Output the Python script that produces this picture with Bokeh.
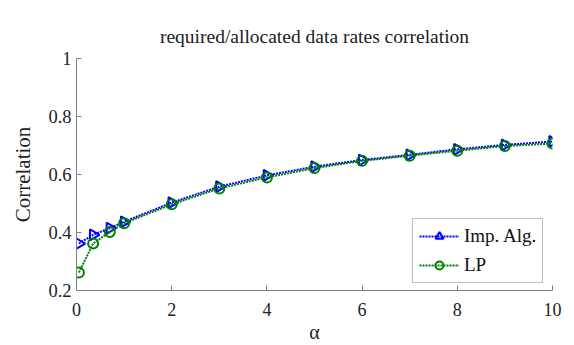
import math
from bokeh.plotting import figure
from bokeh.models import Range1d, FixedTicker, Legend, ColumnDataSource, Title
from bokeh.embed import file_html
from bokeh.resources import INLINE

# correlation between required and allocated data rates vs. alpha
alpha = [0.05, 0.35, 0.7, 1, 2, 3, 4, 5, 6, 7, 8, 9, 10]
imp_alg = [0.362, 0.392, 0.415, 0.437, 0.503, 0.558, 0.597, 0.627, 0.650, 0.668, 0.687, 0.702, 0.714]
lp = [0.262, 0.362, 0.402, 0.432, 0.497, 0.552, 0.590, 0.622, 0.647, 0.665, 0.682, 0.698, 0.707]

x_ticks = [0, 2, 4, 6, 8, 10]
y_ticks = [0.2, 0.4, 0.6, 0.8, 1.0]
y_tick_labels = ["0.2", "0.4", "0.6", "0.8", "1"]

title_text = "required/allocated data rates correlation"

SERIF = "Liberation Serif"

src = ColumnDataSource(dict(alpha=alpha, imp_alg=imp_alg, lp=lp,
                            rot=[-math.pi / 2] * len(alpha)))

p = figure(width=574, height=345, output_backend="svg", toolbar_location=None,
           x_range=Range1d(0, 10), y_range=Range1d(0.2, 1.0),
           min_border_left=76, min_border_right=22, min_border_top=58, min_border_bottom=55,
           title=title_text)

p.title.text_font = SERIF
p.title.text_font_size = "19.5px"
p.title.text_font_style = "normal"
p.title.text_color = "#222222"
p.title.align = "center"

# small blank strip between the title and the frame
p.add_layout(Title(text=" ", text_font_size="4px", standoff=0), "above")

p.outline_line_color = None
p.xgrid.visible = False
p.ygrid.visible = False
p.background_fill_color = "white"
p.border_fill_color = "white"

for ax in (p.xaxis[0], p.yaxis[0]):
    ax.axis_line_color = "#808080"
    ax.major_tick_line_color = "#808080"
    ax.major_tick_in = 5
    ax.major_tick_out = 0
    ax.minor_tick_line_color = None
    ax.major_label_text_font = SERIF
    ax.major_label_text_font_style = "normal"
    ax.major_label_text_color = "#222222"
    ax.axis_label_text_font = SERIF
    ax.axis_label_text_font_style = "normal"
    ax.axis_label_text_color = "#222222"

p.xaxis.major_label_text_font_size = "18px"
p.yaxis.major_label_text_font_size = "18.5px"

p.xaxis.ticker = FixedTicker(ticks=x_ticks)
p.yaxis.ticker = FixedTicker(ticks=y_ticks)
p.yaxis.major_label_overrides = {t: s for t, s in zip(y_ticks, y_tick_labels)}
p.xaxis.major_label_standoff = 12
p.yaxis.major_label_standoff = 5

p.xaxis.axis_label = "α"
p.xaxis.axis_label_text_font_size = "20px"
p.xaxis.axis_label_standoff = 2
p.yaxis.axis_label = "Correlation"
p.yaxis.axis_label_text_font_size = "21px"
p.yaxis.axis_label_standoff = 10

blue = "#0000ff"
green = "#008000"

l1 = p.line("alpha", "imp_alg", source=src, line_color=blue, line_width=2, line_dash="2 1")
m1 = p.scatter("alpha", "imp_alg", source=src, marker="triangle", angle="rot", angle_units="rad",
               size=11, line_color=blue, line_width=2, fill_color=None)
l2 = p.line("alpha", "lp", source=src, line_color=green, line_width=2, line_dash="2 1")
m2 = p.scatter("alpha", "lp", source=src, marker="circle", size=10,
               line_color=green, line_width=2, fill_color=None)

legend = Legend(items=[("Imp. Alg.", [l1, m1]), ("LP", [l2, m2])],
                location=(336, 7))
legend.label_text_font = SERIF
legend.label_text_font_style = "normal"
legend.label_text_font_size = "19px"
legend.label_text_color = "#111111"
legend.glyph_width = 40
legend.glyph_height = 20
legend.label_height = 20
legend.label_standoff = 5
legend.spacing = 7
legend.padding = 6
legend.margin = 0
legend.border_line_color = "#808080"
legend.border_line_width = 1
legend.background_fill_alpha = 1
p.add_layout(legend)

open("out.html", "w").write(file_html(p, INLINE))
